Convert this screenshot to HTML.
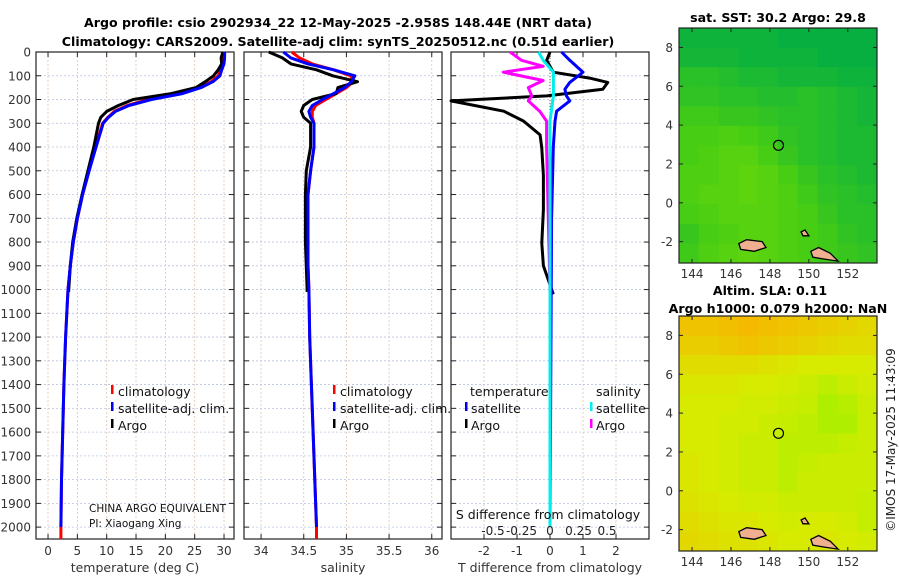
<!DOCTYPE html>
<html><head><meta charset="utf-8"><style>
body{margin:0;background:#fff}
svg{display:block;font-family:"DejaVu Sans","Liberation Sans",sans-serif}
</style></head><body>
<svg id="fig" width="900" height="580" viewBox="0 0 900 580">
<g font-weight="bold" font-size="12.6" text-anchor="middle" fill="#000">
<text x="338" y="27">Argo profile: csio 2902934_22 12-May-2025 -2.958S 148.44E (NRT data)</text>
<text x="338" y="46">Climatology: CARS2009. Satellite-adj clim: synTS_20250512.nc (0.51d earlier)</text>
</g>
<text x="778" y="22" font-size="12.6" font-weight="bold" text-anchor="middle">sat. SST: 30.2 Argo: 29.8</text>
<text x="770" y="295" font-size="12.6" font-weight="bold" text-anchor="middle">Altim. SLA: 0.11</text>
<text x="778" y="313" font-size="12.6" font-weight="bold" text-anchor="middle">Argo h1000: 0.079 h2000: NaN</text>
<text transform="translate(895,440) rotate(-90)" font-size="12" text-anchor="middle" fill="#222">©IMOS 17-May-2025 11:43:09</text>
</svg>
<script>
// ---- profile data ----
const depths=[0,25,50,75,100,125,150,175,200,225,250,275,300,400,500,600,700,800,900,1000,1200,1400,1600,1800,2000,2050];
const climT=[29.9,29.9,29.8,29.4,29.0,27.8,25.8,22.5,17.0,13.5,11.3,10.2,9.3,8.1,7.0,5.9,5.0,4.3,3.8,3.4,3.0,2.7,2.5,2.3,2.2,2.2];
const satT=[30.1,30.1,30.0,29.6,29.3,28.1,26.1,22.9,17.6,13.8,11.5,10.3,9.4,8.2,7.0,5.9,5.0,4.3,3.8,3.4,3.0,2.7,2.5,2.3,2.2];
const argoDepths=[0,25,50,75,100,125,150,175,200,225,250,275,300,400,500,600,700,800,900,1010];
const argoT=[29.8,29.5,29.6,29.0,28.2,26.8,25.2,21.0,14.5,12.0,10.0,9.0,8.6,7.8,6.8,5.8,4.9,4.2,3.8,3.5];
const climS=[34.36,34.45,34.6,34.85,35.05,35.08,35.0,34.88,34.76,34.64,34.6,34.6,34.62,34.62,34.58,34.55,34.55,34.55,34.55,34.56,34.57,34.59,34.61,34.63,34.65,34.65];
const satS=[34.26,34.35,34.55,34.85,35.1,35.06,34.98,34.85,34.72,34.6,34.56,34.58,34.62,34.62,34.58,34.55,34.55,34.55,34.55,34.56,34.57,34.59,34.61,34.63,34.65];
const argoS=[34.09,34.25,34.35,34.65,34.84,35.13,34.9,34.88,34.6,34.5,34.47,34.5,34.58,34.58,34.53,34.52,34.52,34.52,34.53,34.54];
// ---- difference data ----
const dTdepths=[0,35,85,110,128,157,185,206,249,291,349,405,520,663,805,900,1020];
const dTargo=[0,-0.1,0.1,1.2,1.75,1.6,-0.1,-3.0,-1.4,-0.8,-0.3,-0.25,-0.2,-0.2,-0.25,-0.2,0.1];
const dSdepths=[0,35,60,85,120,150,185,206,249,291,400,1000];
const dSargo=[-0.35,-0.25,-0.06,-0.41,-0.06,-0.19,-0.16,-0.19,-0.09,-0.03,-0.03,0];
const dTsatDepths=[0,35,85,128,157,185,206,249,291,400,700,2000];
const dTsat=[0.35,0.6,1.0,0.6,0.45,0.5,0.6,0.2,0.15,0.1,0.05,0];
const dSsatDepths=[0,35,85,128,185,291,2000];
const dSsat=[-0.1,-0.06,0.03,0.03,0.03,0,0];
const depthTicks=[0,100,200,300,400,500,600,700,800,900,1000,1100,1200,1300,1400,1500,1600,1700,1800,1900,2000];
const tTicks=[0,5,10,15,20,25,30];
const sTicks=[34,34.5,35,35.5,36];
const dTTicks=[-2,-1,0,1,2];
const dSTicks=[-0.5,-0.25,0,0.25,0.5];
// ---- map data ----
const sstGrid=[
[.1,.1,.1,.1,.1,.05,.05,.05,.05,.05],
[.15,.15,.15,.1,.1,.1,.1,.05,.05,.05],
[.3,.3,.25,.2,.2,.15,.15,.15,.1,.1],
[.35,.35,.3,.3,.25,.25,.3,.25,.2,.15],
[.45,.45,.4,.4,.35,.3,.3,.25,.2,.15],
[.5,.5,.55,.5,.45,.35,.3,.25,.2,.2],
[.5,.55,.6,.6,.5,.4,.3,.25,.2,.2],
[.55,.55,.6,.65,.6,.5,.4,.3,.25,.2],
[.55,.6,.6,.65,.6,.55,.45,.35,.3,.25],
[.5,.55,.6,.6,.6,.55,.5,.4,.3,.3],
[.4,.5,.55,.6,.6,.55,.5,.45,.35,.3],
[.45,.55,.6,.65,.6,.55,.5,.45,.4,.35]];
const slaGrid=[
[.1,.1,.05,0,.05,.1,.15,.2,.25,.3],
[.2,.2,.15,.1,.15,.2,.25,.3,.35,.35],
[.35,.35,.35,.35,.4,.45,.5,.5,.5,.5],
[.45,.45,.45,.5,.5,.55,.6,.7,.6,.55],
[.5,.5,.5,.55,.55,.6,.65,.8,.75,.6],
[.5,.5,.55,.55,.6,.65,.7,.8,.8,.6],
[.5,.5,.55,.6,.6,.7,.7,.7,.65,.6],
[.45,.5,.55,.6,.6,.7,.65,.6,.6,.6],
[.45,.5,.55,.6,.6,.7,.6,.6,.6,.6],
[.4,.45,.5,.55,.55,.6,.6,.6,.6,.65],
[.35,.4,.45,.45,.5,.55,.5,.5,.55,.65],
[.3,.35,.4,.4,.45,.5,.5,.45,.5,.55]];
const lonTicks=[144,146,148,150,152];
const latTicks=[-2,0,2,4,6,8];
const argoLon=148.44, argoLat=2.96;

const NS='http://www.w3.org/2000/svg';
const svg=document.getElementById('fig');
function mk(tag,attrs,parent){const e=document.createElementNS(NS,tag);for(const k in attrs)e.setAttribute(k,attrs[k]);(parent||svg).appendChild(e);return e;}
const top0=52, bot=539, dmax=2050;
const yD=d=>top0+d/dmax*(bot-top0);
const panels=[
 {x0:36,x1:234,min:-2.05,max:31.7},
 {x0:244,x1:442,min:33.8,max:36.12},
 {x0:451,x1:649,min:-3,max:3}];
function sx(p,v){return p.x0+(v-p.min)/(p.max-p.min)*(p.x1-p.x0);}
const sS=v=>550+v*114;

panels.forEach((p,i)=>{
 const g=mk('g',{});
 
 
 depthTicks.forEach(d=>{const l=mk('line',{x1:p.x0,x2:p.x1,y1:yD(d),y2:yD(d),stroke:'#b8c4e0','stroke-width':0.8,'stroke-dasharray':'2,2'},g);
  
  mk('line',{x1:p.x0,x2:p.x0+5,y1:yD(d),y2:yD(d),stroke:'#222'},g);mk('line',{x1:p.x1-5,x2:p.x1,y1:yD(d),y2:yD(d),stroke:'#222'},g);});
 const ticks=i==0?tTicks:i==1?sTicks:dTTicks;
 ticks.forEach(t=>{const x=sx(p,t);mk('line',{x1:x,x2:x,y1:top0,y2:bot,stroke:'#e0c4b0','stroke-width':0.8,'stroke-dasharray':'2,2'},g);
  mk('line',{x1:x,x2:x,y1:bot-5,y2:bot,stroke:'#222'},g);mk('line',{x1:x,x2:x,y1:top0,y2:top0+5,stroke:'#222'},g);
  const tx=mk('text',{x:x,y:555,'font-size':12,'text-anchor':'middle',fill:'#333'},g);tx.textContent=t;
  });
 mk('rect',{x:p.x0,y:top0,width:p.x1-p.x0,height:bot-top0,fill:'none',stroke:'#222','stroke-width':1.2},g);
});
depthTicks.forEach(d=>{const t=mk('text',{x:31,y:yD(d)+4.5,'font-size':12,'text-anchor':'end',fill:'#333'});t.textContent=d;
 });
[['temperature (deg C)',135],['salinity',343],['T difference from climatology',550]].forEach(([s,x])=>{
 const t=mk('text',{x:x,y:572,'font-size':12.5,'text-anchor':'middle',fill:'#333'});t.textContent=s;
 });

function line(p,xs,ds,col,w,name,fn){
 const pts=xs.map((v,i)=>(fn?fn(v):sx(p,v)).toFixed(1)+','+yD(ds[i]).toFixed(1)).join(' ');
 const e=mk('polyline',{points:pts,fill:'none',stroke:col,'stroke-width':w,'stroke-linejoin':'round'});
 
}
const P=panels;
line(P[0],climT,depths,'#f00',3,'temp-climatology-line');
line(P[0],argoT,argoDepths,'#000',3,'temp-argo-line');
line(P[0],satT,depths.slice(0,satT.length),'#00f',3,'temp-satellite-line');
line(P[1],climS,depths,'#f00',3,'sal-climatology-line');
line(P[1],argoS,argoDepths,'#000',3,'sal-argo-line');
line(P[1],satS,depths.slice(0,satS.length),'#00f',3,'sal-satellite-line');
mk('line',{x1:sx(P[2],0),x2:sx(P[2],0),y1:top0,y2:yD(1000),stroke:'#555','stroke-dasharray':'1,2'});
line(P[2],dTargo,dTdepths,'#000',3,'tdiff-argo-line');
line(P[2],dTsat,dTsatDepths,'#00f',3,'tdiff-satellite-line');
line(P[2],dSargo,dSdepths,'#f0f',3,'sdiff-argo-line',sS);
line(P[2],dSsat,dSsatDepths,'#0ee',3,'sdiff-satellite-line',sS);

function txt(s,x,y,fs,name,col){const t=mk('text',{x:x,y:y,'font-size':fs,fill:col||'#111'});t.textContent=s;return t;}
function mark(x,y,col){mk('rect',{x:x,y:y-11,width:2.5,height:9,fill:col});}
[111,333].forEach(x=>{
 mark(x,396,'#f00');txt('climatology',x+7,396,12.5,'legend-entry-climatology');
 mark(x,413,'#00f');txt('satellite-adj. clim.',x+7,413,12.5,'legend-entry-satellite-adj');
 mark(x,430,'#000');txt('Argo',x+7,430,12.5,'legend-entry-argo');});
txt('temperature',470,396,12.5,'legend-header-temperature');
txt('salinity',596,396,12.5,'legend-header-salinity');
mark(465,413,'#00f');txt('satellite',471,413,12.5,'legend-entry-t-satellite');
mark(465,430,'#000');txt('Argo',471,430,12.5,'legend-entry-t-argo');
mark(590,413,'#0ee');txt('satellite',596,413,12.5,'legend-entry-s-satellite');
mark(590,430,'#f0f');txt('Argo',596,430,12.5,'legend-entry-s-argo');
txt('CHINA ARGO EQUIVALENT',89,512,10.5,'float-owner-label');
txt('PI: Xiaogang Xing',89,527,10.5,'pi-label');
const sl=txt('S difference from climatology',548,519,12.5,'s-axis-title');sl.setAttribute('text-anchor','middle');
dSTicks.forEach(v=>{const t=txt(String(v),sS(v),535,12,'s-tick-label','#222');t.setAttribute('text-anchor','middle');});

// ---- maps ----
const mx0=679,mx1=877,lonMin=143.33,lonMax=153.5,latMin=-3.1,latMax=9.0;
function lerp(a,b,t){return a.map((v,i)=>Math.round(v+(b[i]-v)*t));}
function sstCol(v){return v<0.5?lerp([0,172,70],[70,205,20],v/0.5):lerp([70,205,20],[150,228,0],(v-0.5)/0.5);}
function slaCol(v){return v<0.5?lerp([245,185,0],[215,235,0],v/0.5):lerp([215,235,0],[150,240,0],(v-0.5)/0.5);}
function drawMap(my0,my1,grid,colf,name){
 const g=mk('g',{});
 const X=l=>mx0+(l-lonMin)/(lonMax-lonMin)*(mx1-mx0);
 const Y=l=>my1-(l-latMin)/(latMax-latMin)*(my1-my0);
 const R=grid.length,C=grid[0].length,cw=(mx1-mx0)/C,ch=(my1-my0)/R;
 grid.forEach((row,r)=>row.forEach((v,c)=>{const cell=mk('rect',{x:mx0+c*cw,y:my0+r*ch,width:cw+0.5,height:ch+0.5,fill:'rgb('+colf(v)+')'},g);
  }));
 [[[146.4,-2.1],[146.8,-1.9],[147.6,-2.0],[147.8,-2.3],[147.2,-2.5],[146.5,-2.4]],[[150.1,-2.5],[150.5,-2.3],[151.1,-2.6],[151.5,-3.0],[150.8,-2.9],[150.2,-2.8]],[[149.6,-1.5],[149.8,-1.4],[150.0,-1.7],[149.7,-1.7]]].forEach(poly=>{
  const e=mk('polygon',{points:poly.map(p=>X(p[0]).toFixed(1)+','+Y(p[1]).toFixed(1)).join(' '),fill:'#f0b090',stroke:'#000','stroke-width':1.3},g);
  });
 const c=mk('circle',{cx:X(argoLon),cy:Y(argoLat),r:5,fill:'none',stroke:'#000','stroke-width':1.2},g);
 
 mk('rect',{x:mx0,y:my0,width:mx1-mx0,height:my1-my0,fill:'none',stroke:'#222','stroke-width':1.2},g);
 lonTicks.forEach(l=>{const x=X(l);mk('line',{x1:x,x2:x,y1:my1-4,y2:my1,stroke:'#222'},g);mk('line',{x1:x,x2:x,y1:my0,y2:my0+4,stroke:'#222'},g);
  const t=mk('text',{x:x,y:my1+15,'font-size':12,'text-anchor':'middle',fill:'#333'},g);t.textContent=l;});
 latTicks.forEach(l=>{const y=Y(l);mk('line',{x1:mx0,x2:mx0+4,y1:y,y2:y,stroke:'#222'},g);mk('line',{x1:mx1-4,x2:mx1,y1:y,y2:y,stroke:'#222'},g);
  const t=mk('text',{x:mx0-6,y:y+4.5,'font-size':12,'text-anchor':'end',fill:'#333'},g);t.textContent=l;});
}
drawMap(28,263,sstGrid,sstCol,'sst-map');
drawMap(316,551,slaGrid,slaCol,'sla-map');
</script>
</body></html>
